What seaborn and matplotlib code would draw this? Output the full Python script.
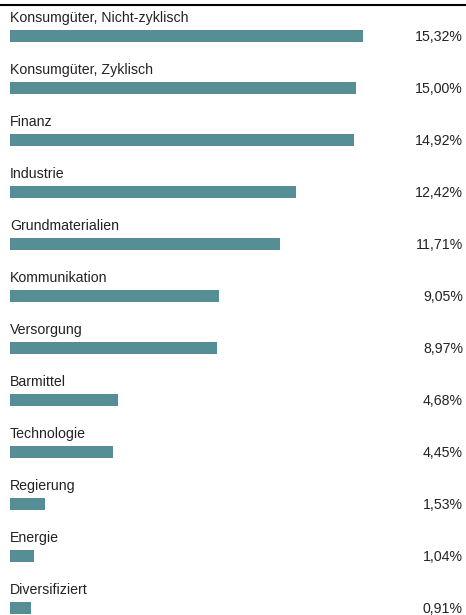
import seaborn as sns
import matplotlib.pyplot as plt
import pandas as pd

# data
sectors = ["Konsumgüter, Nicht-zyklisch", "Konsumgüter, Zyklisch", "Finanz", "Industrie",
           "Grundmaterialien", "Kommunikation", "Versorgung", "Barmittel", "Technologie",
           "Regierung", "Energie", "Diversifiziert"]
weights = [15.32, 15.00, 14.92, 12.42, 11.71, 9.05, 8.97, 4.68, 4.45, 1.53, 1.04, 0.91]
value_labels = ["15,32%", "15,00%", "14,92%", "12,42%", "11,71%", "9,05%", "8,97%",
                "4,68%", "4,45%", "1,53%", "1,04%", "0,91%"]

df = pd.DataFrame({"sector": sectors, "weight": weights})

sns.set_style("white")
plt.rcParams["font.family"] = ["Liberation Sans", "DejaVu Sans"]

W, H = 466, 615
PX = 23.04  # pixels per percent
ROW = 52    # pixels per row
fig = plt.figure(figsize=(W / 100, H / 100), dpi=100)
ax = fig.add_axes([0, 0, 1, (H - 5) / H])

sns.barplot(data=df, x="weight", y="sector", orient="h", color="#558e94",
            saturation=1, width=0.23, linewidth=0, ax=ax)

ax.set_xlim(-10 / PX, (W - 10) / PX)
top = -31 / ROW
ax.set_ylim(top + (H - 5) / ROW, top)

for i, (name, lab) in enumerate(zip(sectors, value_labels)):
    ax.text(0, i - 0.35, name, ha="left", va="center", fontsize=10.2, color="#222222")
    ax.text((W - 3) / PX - 10 / PX, i + 0.02, lab, ha="right", va="center", fontsize=10.2,
            color="#222222")

ax.set_xlabel("")
ax.set_ylabel("")
ax.set_xticks([])
ax.set_yticks([])
for s in ["left", "right", "bottom"]:
    ax.spines[s].set_visible(False)
ax.spines["top"].set_color("black")
ax.spines["top"].set_linewidth(1.5)

fig.savefig("out.png", dpi=100)
